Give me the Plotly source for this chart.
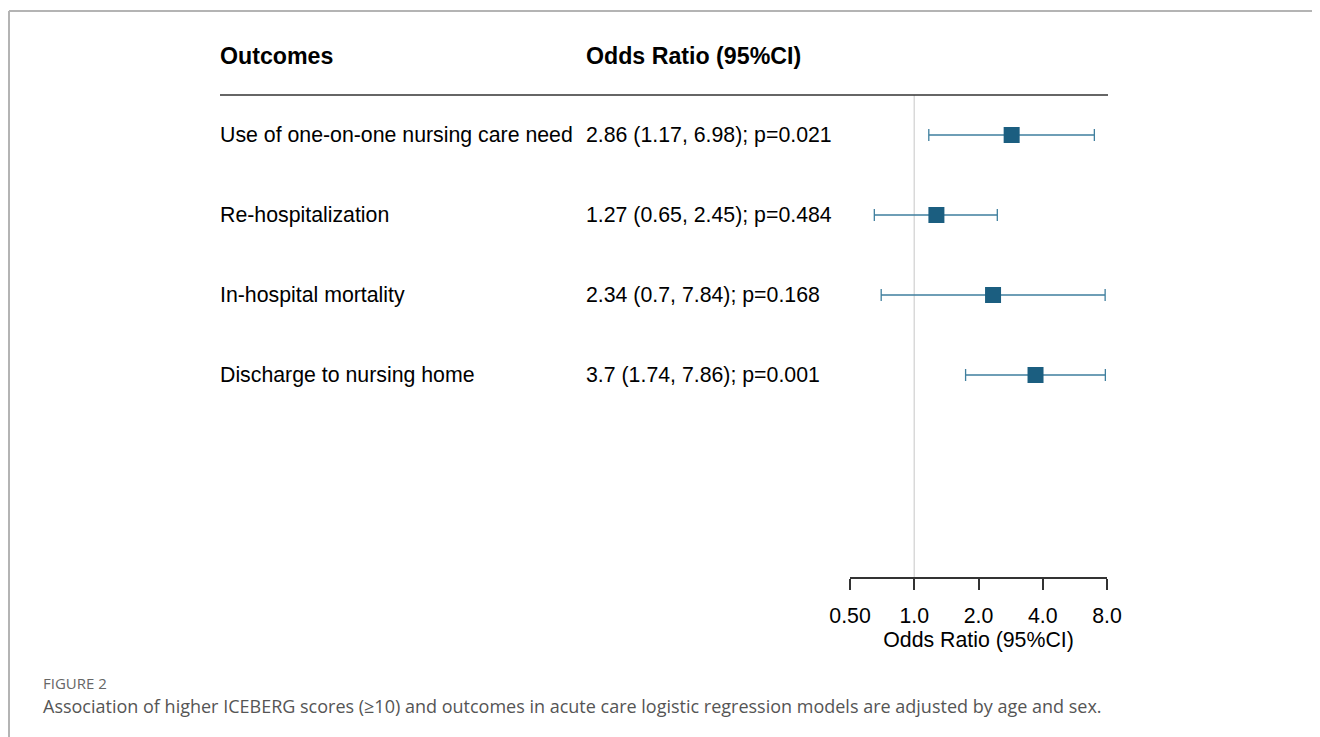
import plotly.graph_objects as go

outcomes = ["Use of one-on-one nursing care need", "Re-hospitalization",
            "In-hospital mortality", "Discharge to nursing home"]
odds_ratio = [2.86, 1.27, 2.34, 3.7]
ci_low = [1.17, 0.65, 0.7, 1.74]
ci_high = [6.98, 2.45, 7.84, 7.86]
p_values = [0.021, 0.484, 0.168, 0.001]
tick_vals = [0.5, 1, 2, 4, 8]
tick_text = ["0.50", "1.0", "2.0", "4.0", "8.0"]
row_pos = [0, 1, 2, 3]

# page body has an 8px margin; compensate so screen pixels match reference
OFF = 8
W, H = 1320 - OFF, 737 - OFF
def px(x):
    return (x - OFF) / W
def py(y):
    return 1 - (y - OFF) / H

FONT = "Liberation Sans, Arial, sans-serif"
CAP_FONT = "Open Sans, sans-serif"
BODY = 21.3
HEAD = 23.2
or_text = [f"{o} ({l}, {h}); p={p:.3f}" for o, l, h, p in zip(odds_ratio, ci_low, ci_high, p_values)]

fig = go.Figure()
fig.add_trace(go.Scatter(
    x=odds_ratio, y=row_pos, mode="markers",
    marker=dict(symbol="square", size=16, color="#1b5e80", line=dict(width=0)),
    error_x=dict(type="data", symmetric=False,
                 array=[h - o for h, o in zip(ci_high, odds_ratio)],
                 arrayminus=[o - l for o, l in zip(odds_ratio, ci_low)],
                 color="#3f7f9e", thickness=1.3, width=6),
    showlegend=False, hoverinfo="skip"))

def ann(x, y, text, size, family=FONT, color="#000", yref="paper"):
    return dict(x=x, y=y, xref="paper", yref=yref, text=text, showarrow=False,
                xanchor="left", yanchor="middle", borderpad=0, borderwidth=0,
                font=dict(family=family, size=size, color=color))

annotations = []
for name, txt, yv in zip(outcomes, or_text, row_pos):
    annotations.append(ann(px(220), yv, name, BODY, yref="y"))
    annotations.append(ann(px(586), yv, txt, BODY, yref="y"))
annotations.append(ann(px(220), py(56), "<b>Outcomes</b>", HEAD))
annotations.append(ann(px(586), py(56), "<b>Odds Ratio (95%CI)</b>", HEAD))
annotations.append(ann(px(43), py(683), "FIGURE 2", 15, family=CAP_FONT, color="#666"))
annotations.append(ann(px(43), py(706),
                       "Association of higher ICEBERG scores (\u226510) and outcomes in acute care logistic regression models are adjusted by age and sex.",
                       18, family=CAP_FONT, color="#555"))

shapes = [
    dict(type="line", xref="x", yref="paper", x0=1, x1=1, y0=py(577), y1=py(95),
         line=dict(color="#d9d9d9", width=1.5), layer="below"),
    dict(type="line", xref="paper", yref="paper", x0=px(220), x1=px(1108), y0=py(95), y1=py(95),
         line=dict(color="#333", width=1.5)),
    dict(type="line", xref="paper", yref="paper", x0=px(9), x1=1, y0=py(11), y1=py(11),
         line=dict(color="#b4b4b4", width=2)),
    dict(type="line", xref="paper", yref="paper", x0=px(9), x1=px(9), y0=0, y1=py(11),
         line=dict(color="#b4b4b4", width=2)),
]

fig.update_layout(
    width=W, height=H, margin=dict(l=0, r=0, t=0, b=0, pad=0, autoexpand=False),
    paper_bgcolor="white", plot_bgcolor="white",
    annotations=annotations, shapes=shapes,
    xaxis=dict(type="log", domain=[px(850), px(1107)],
               range=[-0.30103, 0.90309], tickvals=tick_vals, ticktext=tick_text,
               showline=True, linecolor="#333", linewidth=1.5,
               ticks="outside", ticklen=11, tickwidth=1.5, tickcolor="#333",
               ticklabelstandoff=8,
               showgrid=False, zeroline=False, automargin=False,
               tickfont=dict(family=FONT, size=BODY, color="#000"),
               title=dict(text="Odds Ratio (95%CI)", font=dict(family=FONT, size=BODY, color="#000"),
                          standoff=4),
               anchor="y"),
    yaxis=dict(domain=[py(577), py(95)], range=[5.525, -0.5], visible=False,
               showgrid=False, zeroline=False, automargin=False),
)

fig.write_html("out.html")
